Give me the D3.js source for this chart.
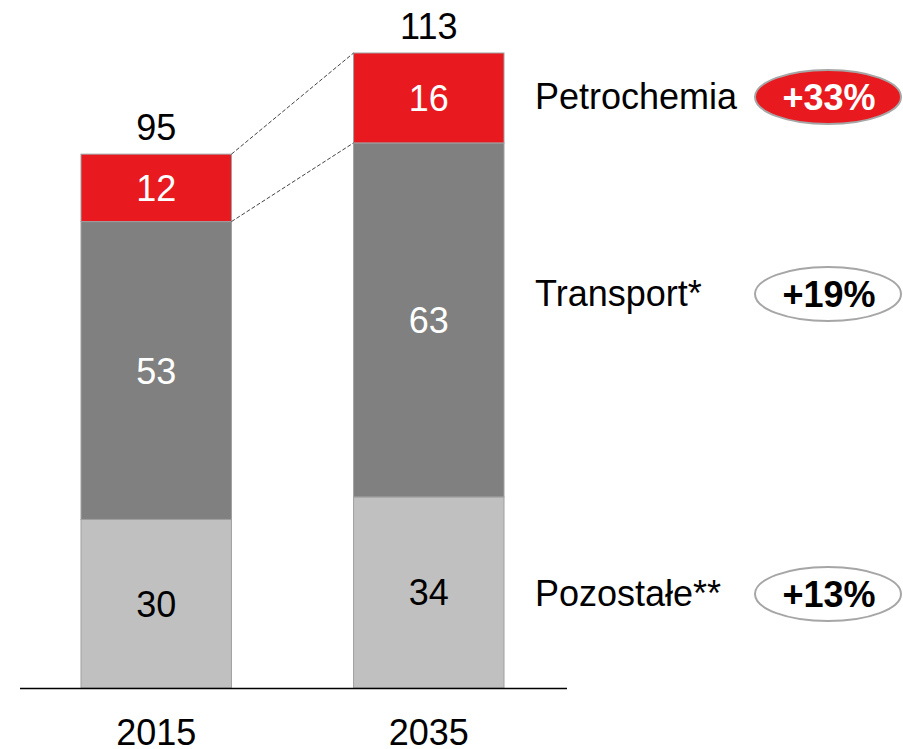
<!DOCTYPE html>
<html>
<head>
<meta charset="utf-8">
<script src="https://cdn.jsdelivr.net/npm/d3@7"></script>
<style>
  body { margin: 0; background: #fff; }
  svg { display: block; font-family: "Liberation Sans", Arial, sans-serif; }
</style>
</head>
<body>
<div id="chart"></div>
<script>
// Data
const years = ['2015', '2035'];
const segments = ['Pozostałe**', 'Transport*', 'Petrochemia'];
const pozostale = [30, 34];
const transport = [53, 63];
const petrochemia = [12, 16];
const totals = [95, 113];
const growth = ['+13%', '+19%', '+33%'];

const colors = ['#c0c0c0', '#808080', '#e8191f'];
const textColors = ['#000', '#fff', '#fff'];

const width = 903, height = 749;

const svg = d3.select('#chart').append('svg')
    .attr('width', width)
    .attr('height', height);

const x = d3.scaleBand()
    .domain(years)
    .range([81, 504])
    .paddingInner(0.448);

const y = d3.scaleLinear()
    .domain([0, 113])
    .range([688, 53]);

// Build stacked data
const rows = years.map((yr, i) => ({
    year: yr,
    'Pozostałe**': pozostale[i],
    'Transport*': transport[i],
    'Petrochemia': petrochemia[i]
}));
const stacked = d3.stack().keys(segments)(rows);

// Bars
const layers = svg.selectAll('g.layer')
    .data(stacked)
  .enter().append('g')
    .attr('class', 'layer');

layers.selectAll('rect')
    .data((d, k) => d.map(v => ({v, k})))
  .enter().append('rect')
    .attr('x', d => x(d.v.data.year))
    .attr('y', d => y(d.v[1]))
    .attr('width', x.bandwidth())
    .attr('height', d => y(d.v[0]) - y(d.v[1]))
    .attr('fill', d => colors[d.k])
    .attr('stroke', '#a0a0a0')
    .attr('stroke-width', 1);

// Segment values
layers.selectAll('text')
    .data((d, k) => d.map(v => ({v, k})))
  .enter().append('text')
    .attr('x', d => x(d.v.data.year) + x.bandwidth() / 2)
    .attr('y', d => (y(d.v[0]) + y(d.v[1])) / 2 + 13)
    .attr('text-anchor', 'middle')
    .style('font-size', '36px')
    .style('fill', d => textColors[d.k])
    .text(d => d.v[1] - d.v[0]);

// Totals
svg.selectAll('text.total')
    .data(years)
  .enter().append('text')
    .attr('class', 'total')
    .attr('x', d => x(d) + x.bandwidth() / 2)
    .attr('y', (d, i) => y(totals[i]) - 14)
    .attr('text-anchor', 'middle')
    .style('font-size', '36px')
    .style('fill', '#000')
    .text((d, i) => totals[i]);

// Dashed connectors
const cx1 = x(years[0]) + x.bandwidth();
const cx2 = x(years[1]);
const topLayer = stacked[2], midLayer = stacked[1];
[[topLayer[0][1], topLayer[1][1]], [midLayer[0][1], midLayer[1][1]]].forEach(p => {
    svg.append('line')
        .attr('x1', cx1).attr('y1', y(p[0]))
        .attr('x2', cx2).attr('y2', y(p[1]))
        .attr('stroke', '#444')
        .attr('stroke-width', 1)
        .attr('stroke-dasharray', '4,2');
});

// Baseline
svg.append('line')
    .attr('x1', 20).attr('x2', 567)
    .attr('y1', y(0) + 0.5).attr('y2', y(0) + 0.5)
    .attr('stroke', '#000')
    .attr('stroke-width', 1.5);

// Year labels
svg.selectAll('text.year')
    .data(years)
  .enter().append('text')
    .attr('class', 'year')
    .attr('x', d => x(d) + x.bandwidth() / 2)
    .attr('y', 745)
    .attr('text-anchor', 'middle')
    .style('font-size', '36px')
    .text(d => d);

// Legend labels with growth ellipses
const legendY = [594, 294, 97];
const legend = svg.selectAll('g.legend')
    .data(segments)
  .enter().append('g')
    .attr('class', 'legend')
    .attr('transform', (d, i) => `translate(0,${legendY[i]})`);

legend.append('text')
    .attr('x', 535)
    .attr('y', 12)
    .style('font-size', '36px')
    .text(d => d);

legend.append('ellipse')
    .attr('cx', 828)
    .attr('cy', 0)
    .attr('rx', 73)
    .attr('ry', 27)
    .attr('fill', (d, i) => i === 2 ? colors[2] : '#fff')
    .attr('stroke', '#a6a6a6')
    .attr('stroke-width', 2);

legend.append('text')
    .attr('x', 829)
    .attr('y', 13)
    .attr('text-anchor', 'middle')
    .style('font-size', '36px')
    .style('font-weight', 'bold')
    .style('fill', (d, i) => i === 2 ? '#fff' : '#000')
    .text((d, i) => growth[i]);
</script>
</body>
</html>
